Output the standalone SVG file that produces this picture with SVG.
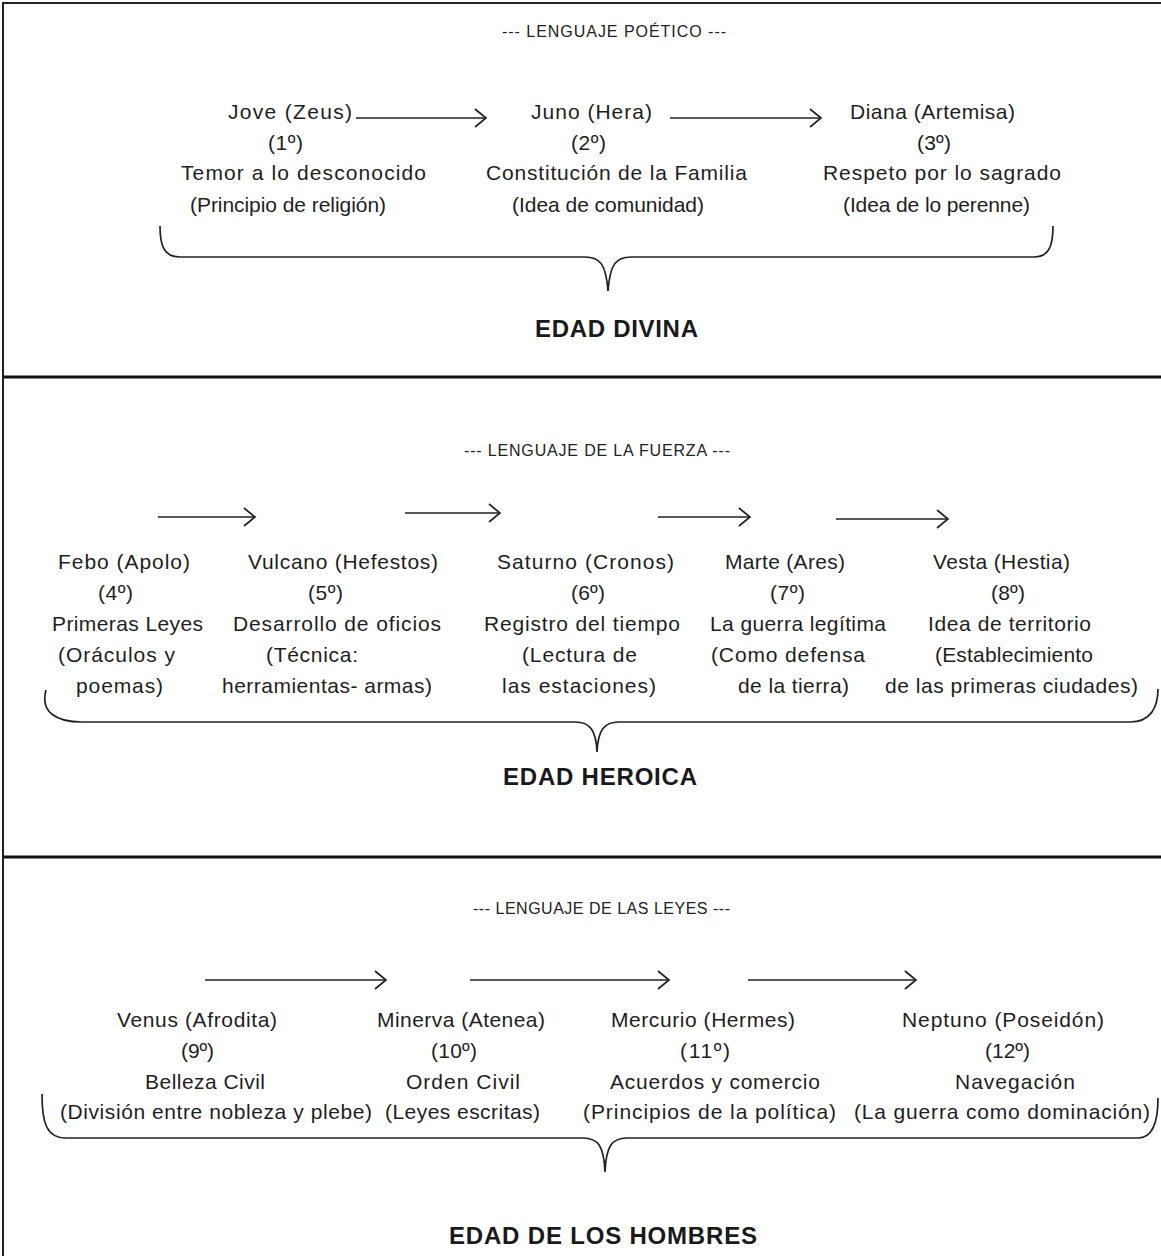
<svg xmlns="http://www.w3.org/2000/svg" width="1161" height="1256" viewBox="0 0 1161 1256">
<defs>
<marker id="chev" markerUnits="userSpaceOnUse" markerWidth="16" markerHeight="24" viewBox="0 0 16 24" refX="14" refY="12" orient="auto">
<path d="M3,3 L14,12 L3,21" fill="none" stroke="#222" stroke-width="1.7"/>
</marker>
<style>
.t{font-family:"Liberation Sans",Arial,sans-serif;font-size:21px;fill:#1e1e1e;}
.h{font-family:"Liberation Sans",Arial,sans-serif;font-size:16px;fill:#222;}
.b{font-family:"Liberation Sans",Arial,sans-serif;font-size:24px;font-weight:bold;fill:#1a1a1a;}
.arr{stroke:#222;stroke-width:1.7;fill:none;marker-end:url(#chev);}
.br{stroke:#222;fill:none;stroke-width:1.7;}
.sep{stroke:#111;stroke-width:3;}
</style>
</defs>
<rect x="0" y="0" width="1161" height="1256" fill="#fff"/>
<g id="frame">
<rect x="3" y="3" width="1170" height="1270" fill="none" stroke="#222" stroke-width="2"/>
<line class="sep" x1="3" y1="377" x2="1161" y2="377"/>
<line class="sep" x1="3" y1="857" x2="1161" y2="857"/>
</g>

<!-- Section 1 -->
<g id="sec1-header"><text class="h" x="502" y="37" textLength="224" lengthAdjust="spacing">--- LENGUAJE POÉTICO ---</text></g>
<g id="n1">
<text class="t" x="228" y="119" textLength="124" lengthAdjust="spacing">Jove  (Zeus)</text>
<text class="t" x="268" y="150" textLength="35" lengthAdjust="spacing">(1º)</text>
<text class="t" x="181" y="180" textLength="245" lengthAdjust="spacing">Temor a lo desconocido</text>
<text class="t" x="190" y="212" textLength="196" lengthAdjust="spacing">(Principio de religión)</text>
</g>
<g id="n2">
<text class="t" x="531" y="119" textLength="121" lengthAdjust="spacing">Juno (Hera)</text>
<text class="t" x="571" y="150" textLength="35" lengthAdjust="spacing">(2º)</text>
<text class="t" x="486" y="180" textLength="261" lengthAdjust="spacing">Constitución de la Familia</text>
<text class="t" x="512" y="212" textLength="192" lengthAdjust="spacing">(Idea de comunidad)</text>
</g>
<g id="n3">
<text class="t" x="850" y="119" textLength="165" lengthAdjust="spacing">Diana (Artemisa)</text>
<text class="t" x="917" y="150" textLength="34" lengthAdjust="spacing">(3º)</text>
<text class="t" x="823" y="180" textLength="238" lengthAdjust="spacing">Respeto por lo sagrado</text>
<text class="t" x="843" y="212" textLength="187" lengthAdjust="spacing">(Idea de lo perenne)</text>
</g>
<g id="brace1"><path class="br" d="M160,226 C160,246 164,257 180,257 L585,257 C600,257 606,264 608,291 C610,264 616,257 631,257 L1034,257 C1049,257 1053,246 1053,226"/></g>
<g id="age1"><text class="b" x="535" y="337" textLength="163" lengthAdjust="spacing">EDAD DIVINA</text></g>

<!-- Section 2 -->
<g id="sec2-header"><text class="h" x="464" y="456" textLength="266" lengthAdjust="spacing">--- LENGUAJE DE LA FUERZA ---</text></g>
<g id="n4">
<text class="t" x="58" y="569" textLength="132" lengthAdjust="spacing">Febo (Apolo)</text>
<text class="t" x="98" y="600" textLength="35" lengthAdjust="spacing">(4º)</text>
<text class="t" x="52" y="631" textLength="151" lengthAdjust="spacing">Primeras Leyes</text>
<text class="t" x="58" y="662" textLength="117" lengthAdjust="spacing">(Oráculos y</text>
<text class="t" x="76" y="693" textLength="87" lengthAdjust="spacing">poemas)</text>
</g>
<g id="n5">
<text class="t" x="248" y="569" textLength="190" lengthAdjust="spacing">Vulcano (Hefestos)</text>
<text class="t" x="308" y="600" textLength="35" lengthAdjust="spacing">(5º)</text>
<text class="t" x="233" y="631" textLength="208" lengthAdjust="spacing">Desarrollo de oficios</text>
<text class="t" x="266" y="662" textLength="92" lengthAdjust="spacing">(Técnica:</text>
<text class="t" x="222" y="693" textLength="210" lengthAdjust="spacing">herramientas- armas)</text>
</g>
<g id="n6">
<text class="t" x="497" y="569" textLength="177" lengthAdjust="spacing">Saturno (Cronos)</text>
<text class="t" x="571" y="600" textLength="34" lengthAdjust="spacing">(6º)</text>
<text class="t" x="484" y="631" textLength="196" lengthAdjust="spacing">Registro del tiempo</text>
<text class="t" x="522" y="662" textLength="115" lengthAdjust="spacing">(Lectura de</text>
<text class="t" x="502" y="693" textLength="154" lengthAdjust="spacing">las estaciones)</text>
</g>
<g id="n7">
<text class="t" x="725" y="569" textLength="120" lengthAdjust="spacing">Marte (Ares)</text>
<text class="t" x="770" y="600" textLength="35" lengthAdjust="spacing">(7º)</text>
<text class="t" x="710" y="631" textLength="176" lengthAdjust="spacing">La guerra legítima</text>
<text class="t" x="711" y="662" textLength="154" lengthAdjust="spacing">(Como defensa</text>
<text class="t" x="738" y="693" textLength="111" lengthAdjust="spacing">de la tierra)</text>
</g>
<g id="n8">
<text class="t" x="933" y="569" textLength="137" lengthAdjust="spacing">Vesta (Hestia)</text>
<text class="t" x="991" y="600" textLength="34" lengthAdjust="spacing">(8º)</text>
<text class="t" x="928" y="631" textLength="163" lengthAdjust="spacing">Idea de territorio</text>
<text class="t" x="935" y="662" textLength="158" lengthAdjust="spacing">(Establecimiento</text>
<text class="t" x="885" y="693" textLength="253" lengthAdjust="spacing">de las primeras ciudades)</text>
</g>
<g id="brace2"><path class="br" stroke-width="2.6" d="M46,690 C40,712 56,722 82,722 L575,722 C590,722 596,730 597,752 C598,730 604,722 619,722 L1130,722 C1150,722 1158,708 1158,689"/></g>
<g id="age2"><text class="b" x="503" y="785" textLength="194" lengthAdjust="spacing">EDAD HEROICA</text></g>

<!-- Section 3 -->
<g id="sec3-header"><text class="h" x="473" y="914" textLength="257" lengthAdjust="spacing">--- LENGUAJE DE LAS LEYES ---</text></g>
<g id="n9">
<text class="t" x="117" y="1027" textLength="160" lengthAdjust="spacing">Venus (Afrodita)</text>
<text class="t" x="181" y="1058" textLength="33" lengthAdjust="spacing">(9º)</text>
<text class="t" x="145" y="1089" textLength="120" lengthAdjust="spacing">Belleza Civil</text>
<text class="t" x="60" y="1119" textLength="312" lengthAdjust="spacing">(División entre nobleza y plebe)</text>
</g>
<g id="n10">
<text class="t" x="377" y="1027" textLength="168" lengthAdjust="spacing">Minerva (Atenea)</text>
<text class="t" x="431" y="1058" textLength="46" lengthAdjust="spacing">(10º)</text>
<text class="t" x="406" y="1089" textLength="114" lengthAdjust="spacing">Orden Civil</text>
<text class="t" x="385" y="1119" textLength="155" lengthAdjust="spacing">(Leyes escritas)</text>
</g>
<g id="n11">
<text class="t" x="611" y="1027" textLength="184" lengthAdjust="spacing">Mercurio (Hermes)</text>
<text class="t" x="680" y="1058" textLength="50" lengthAdjust="spacing">(11º)</text>
<text class="t" x="610" y="1089" textLength="210" lengthAdjust="spacing">Acuerdos y comercio</text>
<text class="t" x="583" y="1119" textLength="253" lengthAdjust="spacing">(Principios de la política)</text>
</g>
<g id="n12">
<text class="t" x="902" y="1027" textLength="202" lengthAdjust="spacing">Neptuno (Poseidón)</text>
<text class="t" x="985" y="1058" textLength="45" lengthAdjust="spacing">(12º)</text>
<text class="t" x="955" y="1089" textLength="120" lengthAdjust="spacing">Navegación</text>
<text class="t" x="854" y="1119" textLength="296" lengthAdjust="spacing">(La guerra como dominación)</text>
</g>
<g id="brace3"><path class="br" d="M42,1094 C42,1122 46,1138 66,1138 L583,1138 C598,1138 604,1146 605,1172 C606,1146 612,1138 627,1138 L1138,1138 C1152,1138 1158,1124 1158,1098"/></g>
<g id="age3"><text class="b" x="449" y="1244" textLength="308" lengthAdjust="spacing">EDAD DE LOS HOMBRES</text></g>

<g id="connectors">
<line class="arr" x1="356" y1="118" x2="486" y2="118"/>
<line class="arr" x1="670" y1="118" x2="821" y2="118"/>
<line class="arr" x1="158" y1="517" x2="255" y2="517"/>
<line class="arr" x1="405" y1="513" x2="500" y2="513"/>
<line class="arr" x1="658" y1="517" x2="750" y2="517"/>
<line class="arr" x1="836" y1="519" x2="948" y2="519"/>
<line class="arr" x1="205" y1="980" x2="386" y2="980"/>
<line class="arr" x1="470" y1="980" x2="669" y2="980"/>
<line class="arr" x1="748" y1="980" x2="916" y2="980"/>
</g>
</svg>
